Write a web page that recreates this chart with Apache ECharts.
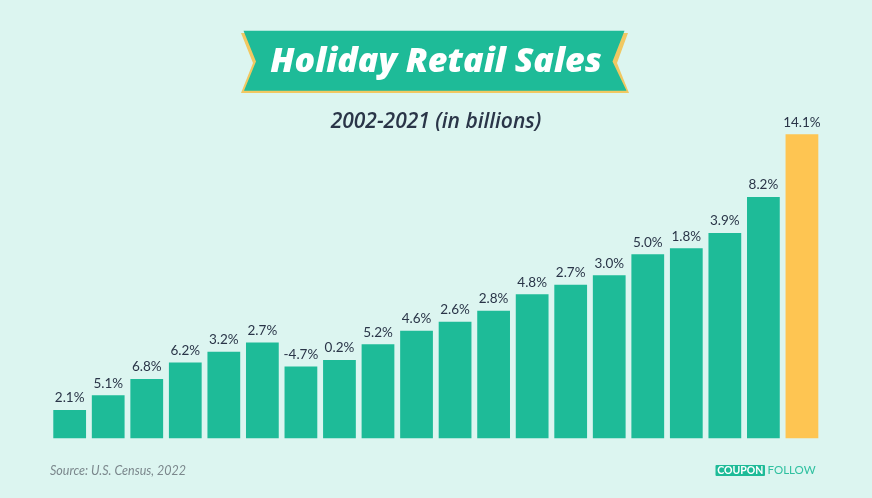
<!DOCTYPE html>
<html>
<head>
<meta charset="utf-8">
<script src="https://cdn.jsdelivr.net/npm/echarts@6/dist/echarts.min.js"></script>
<style>
html,body{margin:0;padding:0;background:#dcf5f0;}
#chart{width:872px;height:498px;}
</style>
</head>
<body>
<div id="chart"></div>
<script>
// Data (bar heights in billions; labels are YoY growth)
var years = ['2002','2003','2004','2005','2006','2007','2008','2009','2010','2011','2012','2013','2014','2015','2016','2017','2018','2019','2020','2021'];
var sales = [416, 441, 469, 497, 515, 531, 490, 501, 528, 551, 566, 585, 613, 629, 645, 681, 691, 717, 778, 885];
var growth = ['2.1%','5.1%','6.8%','6.2%','3.2%','2.7%','-4.7%','0.2%','5.2%','4.6%','2.6%','2.8%','4.8%','2.7%','3.0%','5.0%','1.8%','3.9%','8.2%','14.1%'];

var GREEN = '#1ebb98';
var GOLD = '#fec552';
var TEXT = '#2a3548';

var chart = echarts.init(document.getElementById('chart'), null, {renderer:'canvas'});

var barData = sales.map(function(v, i){
  return {
    value: v,
    itemStyle: {color: i === sales.length - 1 ? GOLD : GREEN}
  };
});

var option = {
  backgroundColor: '#dcf5f0',
  animation: false,
  grid: {left: 50.4, right: 50.8, top: 101.8, bottom: 59.7},
  xAxis: {
    type: 'category',
    data: years,
    axisLine: {show: false},
    axisTick: {show: false},
    axisLabel: {show: false}
  },
  yAxis: {
    type: 'value',
    min: 368,
    max: 940,
    show: false,
    splitLine: {show: false}
  },
  series: [{
    type: 'bar',
    data: barData,
    barCategoryGap: '15%',
    label: {
      show: true,
      position: 'top',
      distance: 5,
      color: TEXT,
      fontFamily: 'Lato',
      fontSize: 13.5,
      formatter: function(p){ return growth[p.dataIndex]; }
    }
  }],
  graphic: [
    {
      type: 'polygon',
      shape: {points: [[241,33],[628,33],[617,63],[629,93],[241,93],[253,63]]},
      style: {fill: '#f1c862'},
      z: 10
    },
    {
      type: 'polygon',
      shape: {points: [[243.5,30.7],[624.5,30.7],[612.5,61.5],[626.5,90.7],[244,90.7],[256,61.5]]},
      style: {fill: GREEN},
      z: 11
    },
    {
      type: 'text',
      x: 436, y: 62,
      style: {
        text: 'Holiday Retail Sales',
        fill: '#ffffff',
        font: 'italic 800 34px "Open Sans"',
        align: 'center',
        verticalAlign: 'middle'
      },
      z: 12
    },
    {
      type: 'text',
      x: 436, y: 122,
      style: {
        text: '2002-2021 (in billions)',
        fill: TEXT,
        font: 'italic 600 21px "Open Sans"',
        align: 'center',
        verticalAlign: 'middle'
      },
      z: 12
    },
    {
      type: 'text',
      x: 50, y: 471,
      style: {
        text: 'Source: U.S. Census, 2022',
        fill: '#7b878c',
        font: 'italic 12.5px Lato',
        align: 'left',
        verticalAlign: 'middle'
      },
      z: 12
    },
    {
      type: 'rect',
      shape: {x: 715.5, y: 465, width: 49.5, height: 11, r: 1},
      style: {fill: GREEN},
      z: 12
    },
    {
      type: 'text',
      x: 740.2, y: 470.7,
      style: {
        text: 'COUPON',
        fill: '#ffffff',
        font: 'bold 10.5px Lato',
        align: 'center',
        verticalAlign: 'middle'
      },
      z: 13
    },
    {
      type: 'text',
      x: 767.5, y: 470.7,
      style: {
        text: 'FOLLOW',
        fill: '#2fc0a0',
        font: '11.5px Lato',
        align: 'left',
        verticalAlign: 'middle'
      },
      z: 13
    }
  ]
};
chart.setOption(option);
</script>
</body>
</html>
